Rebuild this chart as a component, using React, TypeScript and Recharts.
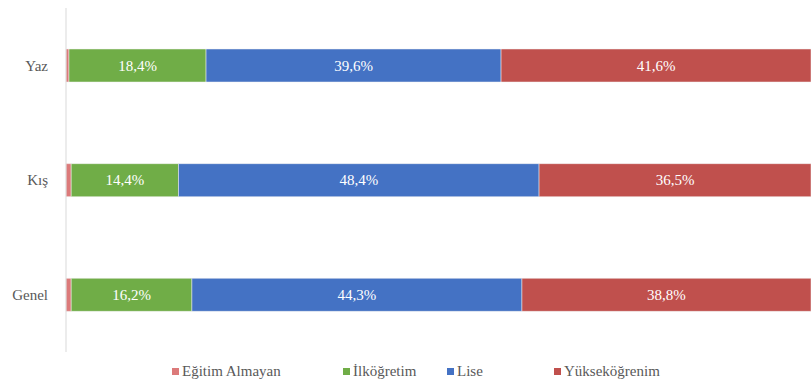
import { BarChart, Bar, XAxis, YAxis, Legend, LabelList } from "recharts";

const seasons = ["Yaz", "Kış", "Genel"];
const egitimAlmayan = [0.4, 0.7, 0.7];
const ilkogretim = [18.4, 14.4, 16.2];
const lise = [39.6, 48.4, 44.3];
const yuksekogrenim = [41.6, 36.5, 38.8];

const series = [
  { key: "egitimAlmayan", name: "Eğitim Almayan", color: "#dc7a7a", label: false },
  { key: "ilkogretim", name: "İlköğretim", color: "#70ad47", label: true },
  { key: "lise", name: "Lise", color: "#4472c4", label: true },
  { key: "yuksekogrenim", name: "Yükseköğrenim", color: "#c0504d", label: true },
];

// slot width of each legend entry, so they line up like the original
const legendSlots = [171, 104, 107, 120];

const data = seasons.map((season, i) => ({
  season,
  egitimAlmayan: egitimAlmayan[i],
  ilkogretim: ilkogretim[i],
  lise: lise[i],
  yuksekogrenim: yuksekogrenim[i],
}));

const font = "Liberation Serif, DejaVu Serif, serif";

const formatPct = (v: any) => `${Number(v).toFixed(1).replace(".", ",")}%`;

const LegendContent = () => (
  <div
    style={{
      display: "flex",
      paddingLeft: 172,
      paddingTop: 11,
      fontFamily: font,
      fontSize: 15,
      color: "#595959",
    }}
  >
    {series.map((s, i) => (
      <div
        key={s.key}
        style={{ display: "flex", alignItems: "center", width: legendSlots[i] }}
      >
        <span
          style={{
            display: "inline-block",
            width: 7,
            height: 7,
            background: s.color,
            marginRight: 3,
          }}
        />
        <span>{s.name}</span>
      </div>
    ))}
  </div>
);

export default function App() {
  return (
    <div style={{ position: "absolute", left: 0, top: 0, background: "#fff" }}>
      <BarChart
        width={811}
        height={383}
        data={data}
        layout="vertical"
        margin={{ top: 8, right: 0, bottom: 0, left: 0 }}
        barSize={33}
      >
        <XAxis type="number" domain={[0, 100]} hide />
        <YAxis
          type="category"
          dataKey="season"
          width={66}
          tickLine={false}
          axisLine={{ stroke: "#d9d9d9" }}
          tick={{ fill: "#595959", fontFamily: font, fontSize: 15 }}
          tickMargin={12}
        />
        <Legend
          verticalAlign="bottom"
          height={31}
          content={<LegendContent />}
          wrapperStyle={{ left: 0, width: 811 }}
        />
        {series.map((s) => (
          <Bar
            key={s.key}
            dataKey={s.key}
            name={s.name}
            stackId="a"
            fill={s.color}
            stroke="#f2f2f2"
            strokeWidth={0.5}
            isAnimationActive={false}
          >
            {s.label && (
              <LabelList
                dataKey={s.key}
                position="center"
                formatter={formatPct}
                fill="#ffffff"
                style={{ fontFamily: font, fontSize: 15 }}
              />
            )}
          </Bar>
        ))}
      </BarChart>
    </div>
  );
}
